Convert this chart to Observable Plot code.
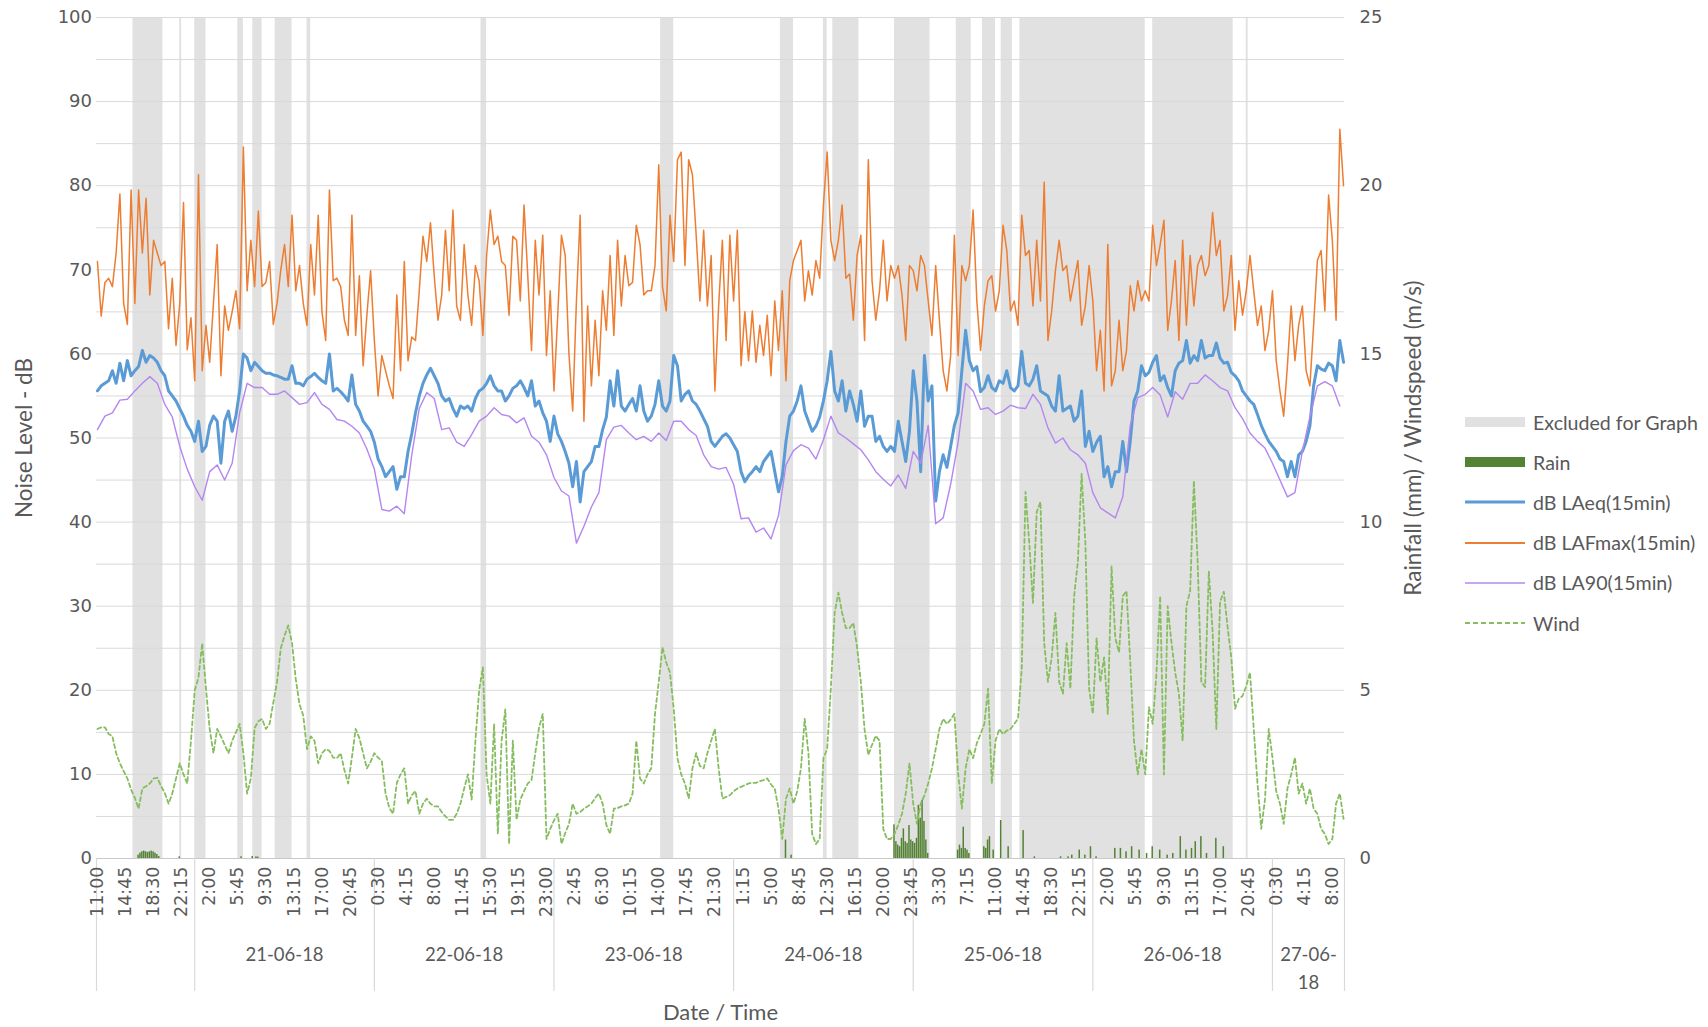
<!DOCTYPE html>
<html>
<head>
<meta charset="utf-8">
<script src="https://cdn.jsdelivr.net/npm/d3@7"></script>
<script src="https://cdn.jsdelivr.net/npm/@observablehq/plot@0.6"></script>
<style>
  body { margin: 0; background: #fff; }
  #chart { position: relative; width: 1708px; height: 1027px; }
  #legend { position: absolute; left: 1465px; top: 402px; font-family: Lato, sans-serif; font-size: 19.6px; color: #595959; }
  #legend .item { display: flex; align-items: center; height: 40.2px; gap: 8px; white-space: nowrap; }
  #legend svg { display: block; }
</style>
</head>
<body>
<div id="chart">
  <div id="legend">
    <div class="item"><svg width="60" height="14"><rect x="0" y="2" width="60" height="10" fill="#e1e1e1"/></svg><span>Excluded for Graph</span></div>
    <div class="item"><svg width="60" height="14"><rect x="0" y="2" width="60" height="10" fill="#548235"/></svg><span>Rain</span></div>
    <div class="item"><svg width="60" height="14"><line x1="0" x2="60" y1="7" y2="7" stroke="#5b9bd5" stroke-width="3"/></svg><span>dB LAeq(15min)</span></div>
    <div class="item"><svg width="60" height="14"><line x1="0" x2="60" y1="7" y2="7" stroke="#ed7d31" stroke-width="2"/></svg><span>dB LAFmax(15min)</span></div>
    <div class="item"><svg width="60" height="14"><line x1="0" x2="60" y1="7" y2="7" stroke="#b486f0" stroke-width="1.6"/></svg><span>dB LA90(15min)</span></div>
    <div class="item"><svg width="60" height="14"><line x1="0" x2="60" y1="7" y2="7" stroke="#86bd5f" stroke-width="2" stroke-dasharray="5,3"/></svg><span>Wind</span></div>
  </div>
</div>
<script>
// Monitoring period: 15-minute intervals from 20-06-18 11:00 to 27-06-18 09:30
const startTime = "2018-06-20 11:00";

// Half-hourly readings (dB), from 20-06 11:00
const lafmax = [
  71,64.5,68.5,69,68,72,79,66,63.5,79.5,66,79.5,72,78.5,67,73.5,72,70.5,71,63,69,61,66,78,60.5,64.3,56.8,81.3,58,63.4,59,66,73,57.4,65.7,62.8,65,67.5,63,84.6,67.5,73.5,68,77,68,68.5,71,63.5,66,70,73,68,76.5,67.5,70.5,
  66,63.4,73,67,76.5,65,61.6,79.5,68.7,69,68,64,62.2,76.5,62.2,69.3,58.6,64.6,69.9,61.6,55,59.8,58,56.2,54.7,67,58,71,59.2,62,61.6,67.5,74,71,75.6,69.3,64,67,74.7,67.5,77.1,65.7,64,73,67,63.4,70.5,68.7,62.2,71.7,77.1,73,74,71,70.5,64.6,74,
  73.5,66.3,77.7,69.3,60.4,73.5,67,74.1,59.8,67.5,55.6,64.6,74.1,71.7,60,53.2,66.3,76.5,52,65.7,56.2,64,57.4,67.5,62.8,71.7,62.2,73.5,65.7,71.7,68.1,68.5,75.3,73,67,67.5,67.5,70.5,82.5,68,65.1,76.5,71,83.1,84,70.5,83.1,81.3,74.1,66.3,74.7,65.7,71.7,55.6,65.7,73.5,
  61.6,74.1,66.3,74.7,58.6,65,59.2,65.1,59,63.4,59.8,64.6,57.4,66.3,60.4,67.5,56.8,68.7,71.1,72.3,73.5,66.3,69.9,67,71.1,69,77.7,84,73.5,71.1,73.5,77.7,69,69.5,64,71.7,74.1,61.6,83.1,68.7,64,67.5,73.5,66.3,70.5,69,70.5,67,61.6,70.5,69.9,67.5,71.7,70.5,66.3,62.2,
  70.5,64,58,55.6,59.8,74.1,59.8,70.5,68.7,70.5,77.1,66.3,60.4,65.7,68.7,69.3,65.1,67.5,75.3,72.3,65.1,66.3,63.4,76.5,71.7,72.3,65.7,73.5,66.3,80.4,61.6,65.1,69.9,73.5,69.9,70.5,66.3,68.7,71.1,63.4,65.7,70.5,66.3,58,62.8,55.6,73,56.2,58,64,58,60.4,68.1,65.1,68.7,66.3,67.5,
  66.3,75.3,70.5,73,75.9,62.8,66.3,71.1,61.6,73.5,63.4,71.7,65.7,70.5,71.7,69.3,70.5,76.8,71.7,73.5,65.1,66.9,71.7,62.8,68.7,64.6,67.5,71.7,67.5,63.4,65.7,60.4,62.8,67.5,59.2,55.6,52.6,58.6,65.7,59.2,63.4,65.7,58,56.2,63.4,71.1,72.3,65.1,78.9,73.5,64,86.7,80
];
const laeq = [
  55.6,56.2,56.5,56.8,58,56.5,58.9,56.8,59.2,57.4,58,58.5,60.4,59,59.8,59.5,59,58,57.4,55.6,55,54.4,53.5,52.6,51.5,50.8,49.6,52,48.4,49,51.5,52.6,52,47,52,53.2,50.8,52.6,55.6,60,59.5,58,59,58.5,58,57.7,57.7,57.5,57.4,57.2,57,57,58.6,56.5,56.5,
  56.2,57,57.3,57.7,57.2,56.8,56.5,60,55.6,55.9,55.5,55,54.4,57.5,54,53.2,52,51.4,50.8,49.5,47.5,46.6,45.4,46,46.6,43.9,45.4,45.4,48.4,50.5,53,55,56.5,57.5,58.3,57.4,56.5,55,54.4,54.7,53.5,52.6,53.8,53.5,53.8,53.2,54.7,55.6,55.9,56.5,57.4,56.2,55.6,55.6,54.4,55,55.9,
  56.2,56.8,56,55,56.8,53.8,54.4,53,52,49.6,52.6,50.5,49.6,48.4,47,44.2,47.2,42.4,46,46.6,47.2,49,49,51,52.5,56.8,53.8,58,53.8,53.2,54,54.7,53.2,56.2,53.2,52,52.6,54,56.8,53.8,53.2,54.4,59.8,58.6,54.4,55.2,55.6,54.4,54,53.2,52.3,51.4,49.6,49,49.6,50.2,
  50.5,50,49.2,48.4,46,44.8,45.5,46,46.6,46,47.2,47.8,48.4,46,43.6,45.4,49.6,52.6,53.2,54.4,56.2,53.2,52,50.8,51.4,52.5,54.4,56.8,60.3,55.6,54.4,56.8,53.2,55.6,54,52,55.6,51.4,52.6,52.6,49.6,50.2,49,48.4,49,48.4,52,49.6,47.2,50.8,58,54.4,46,59.8,54.4,56.2,
  42.5,46,48,46.5,49,51.5,53,58,62.8,59.2,58,58.5,55.5,56,57.4,56,55.6,56.8,56.5,58,56,55.6,56.2,60.3,56.5,56.2,57,58.6,55.6,55.3,55,53.8,53.2,57.4,53.2,53.5,53.8,52,52.6,55.6,49,50.8,48.4,49.5,50.2,45.4,46.6,44.2,46,46,49.6,46,49.6,54.4,55.6,58.6,57.4,
  57.8,59,59.8,56.8,57.4,56,55,58,58.9,59.2,61.6,58.9,59.8,59.2,61.6,59.5,59.8,59.8,61.3,59.5,58.9,59,57.8,57.4,56.8,55.6,55,54.4,54,52.8,51.5,50.5,49.6,49,48.4,47.5,47.2,45.4,47.2,45.4,48,48.4,49.6,51.4,56.2,58.6,58.2,58,58.9,58.6,56.8,61.6,59
];
// Half-hourly wind speed (m/s)
const wind = [
  3.85,3.9,3.9,3.7,3.63,3.13,2.83,2.6,2.38,2.05,1.8,1.48,2.08,2.15,2.23,2.38,2.4,2.15,1.95,1.63,1.93,2.38,2.83,2.5,2.23,3.5,5,5.38,6.4,5.05,3.85,3.13,3.85,3.63,3.38,3.13,3.5,3.75,4,3.13,1.93,2.38,3.88,4.08,4.15,3.85,4,4.63,5.25,6.25,6.63,6.93,6.4,5.33,4.58,
  4.25,3.25,3.63,3.5,2.83,3.13,3.25,3.2,3,2.98,3.13,2.63,2.23,3,3.85,3.58,3.13,2.68,2.88,3.13,3,2.9,1.93,1.5,1.33,2.25,2.5,2.68,1.63,1.88,2,1.33,1.63,1.78,1.63,1.55,1.55,1.38,1.25,1.15,1.15,1.33,1.63,2.08,2.5,1.75,3.5,5,5.68,2.5,1.63,4,0.73,3.5,4.43,0.43,3.5,
  1.15,1.75,2,2.23,2.33,3.13,3.88,4.3,0.58,0.88,1.13,1.33,0.43,0.75,1.03,1.63,1.33,1.38,1.48,1.55,1.63,1.8,1.93,1.63,1,0.73,1.48,1.5,1.55,1.58,1.63,1.93,3.5,2.38,2.23,2.5,2.68,4.3,5.25,6.28,5.83,5.53,4.45,2.98,2.5,2.23,1.78,2.68,3.13,2.75,2.68,3.13,3.5,3.85,2.68,1.78,
  1.83,1.88,2,2.08,2.13,2.18,2.23,2.25,2.25,2.3,2.33,2.38,2.2,2.08,1.48,0.58,1.78,2.08,1.63,2,2.68,4.15,3.13,0.73,0.43,0.58,2.98,3.25,5.08,7.3,7.9,7.3,6.85,6.85,7,6.28,5.25,3.83,3.08,3.38,3.65,3.5,0.88,0.58,0.58,0.73,1,1.33,1.93,2.83,1.63,1.03,1.63,1.88,2.23,2.68,
  3.25,3.85,4.15,4,4.13,4.3,2.53,1.48,2.68,3.25,2.98,3.43,3.7,4,5.05,2.23,3.5,3.85,3.7,3.8,3.85,4,4.15,5.65,10.9,9.4,7.6,10.3,10.6,6.4,5.25,5.98,7.3,5.25,4.9,6.4,5.05,7.8,8.83,11.43,9.4,5.05,4.3,6.55,5.25,5.98,4.3,8.68,6.55,6.13,7.8,7.95,5.83,3.5,2.5,3.25,2.5,
  4.5,4,5.5,7.8,2.5,7.5,6.43,5.53,4.9,3.5,7.5,7.95,11.23,8.83,5.25,5.1,8.53,6.75,3.85,7.63,7.93,6.88,5.98,4.45,4.75,4.83,5.13,5.53,3.85,2.23,0.88,1.75,3.85,3,2,1.63,1.03,2.08,2.5,3,1.93,2.23,1.63,2.08,1.48,1.33,0.88,0.73,0.43,0.58,1.63,1.93,1.18
];
// Hourly background level (dB), from 20-06 11:00
const la90 = [
  51,52.6,53,54.5,54.6,55.6,56.5,57.3,56.5,54,52.5,49,46.3,44.2,42.6,46,46.8,45,47,53,56.5,56,56,55.2,55.2,55.6,54.8,54,
  54.2,55.4,54,53.4,52.2,52,51.4,50.6,48.7,46.3,41.5,41.3,41.9,41,48,53.5,55.4,54.7,51,51.2,49.5,49,50.4,52,52.6,53.6,52.8,52.6,
  51.8,52.4,50.2,49.5,48,45.3,43.7,43.1,37.5,39.5,41.8,43.5,49.8,51.3,51.5,50.6,49.8,50.2,49.6,50.6,49.7,52,52,51,50.3,48,46.6,46.3,
  46.5,44.5,40.4,40.5,38.8,39.3,38,40.8,46.8,48.5,49.2,48.8,47.5,49.8,52.6,50.6,50,49.3,48.6,47.4,46,45.1,44.3,45.6,44,48.4,47,51.5,39.8,
  40.5,44.5,49.5,56.5,55.6,53.4,53.6,52.8,53.2,53.9,53.6,53.5,55.2,54,51.2,49.4,50,48.6,48,47,43.5,41.7,41.1,40.5,43,51.5,54.8,
  55.2,56,55.1,52.5,55.5,54.6,56.5,56.5,57.5,56.8,56,55.6,53.6,52.3,50.6,49.6,48.8,47,45,43,43.5,48.4,52.5,56.2,56.7,56.2,53.8
];

// Rainfall per 15-minute interval (mm)
const rainAt = [
  "2018-06-20 16:30","2018-06-20 16:45","2018-06-20 17:00","2018-06-20 17:15","2018-06-20 17:30","2018-06-20 17:45","2018-06-20 18:00","2018-06-20 18:15","2018-06-20 18:30","2018-06-20 18:45","2018-06-20 19:00","2018-06-20 19:15","2018-06-20 22:00",
  "2018-06-21 06:15","2018-06-21 07:45","2018-06-21 08:15","2018-06-21 08:30",
  "2018-06-24 07:00","2018-06-24 07:45","2018-06-24 21:30","2018-06-24 21:45","2018-06-24 22:00","2018-06-24 22:15","2018-06-24 22:30","2018-06-24 22:45","2018-06-24 23:00","2018-06-24 23:15","2018-06-24 23:30","2018-06-24 23:45",
  "2018-06-25 00:00","2018-06-25 00:15","2018-06-25 00:30","2018-06-25 00:45","2018-06-25 01:00","2018-06-25 01:15","2018-06-25 01:30","2018-06-25 01:45","2018-06-25 02:00",
  "2018-06-25 06:00","2018-06-25 06:15","2018-06-25 06:30","2018-06-25 06:45","2018-06-25 07:00","2018-06-25 07:15","2018-06-25 07:30",
  "2018-06-25 09:30","2018-06-25 09:45","2018-06-25 10:00","2018-06-25 10:15","2018-06-25 10:45","2018-06-25 11:45","2018-06-25 12:45","2018-06-25 14:45","2018-06-25 16:15",
  "2018-06-25 19:45","2018-06-25 20:45","2018-06-25 21:15","2018-06-25 22:15","2018-06-25 23:00","2018-06-25 23:45",
  "2018-06-26 00:30","2018-06-26 03:00","2018-06-26 03:45","2018-06-26 04:30","2018-06-26 05:15","2018-06-26 06:15","2018-06-26 07:15","2018-06-26 08:00","2018-06-26 09:00","2018-06-26 10:00",
  "2018-06-26 10:45","2018-06-26 11:45","2018-06-26 12:30","2018-06-26 13:15","2018-06-26 13:45","2018-06-26 14:30","2018-06-26 15:15","2018-06-26 16:30","2018-06-26 17:30"
];
const rainMm = [
  0.1,0.16,0.2,0.22,0.2,0.18,0.2,0.22,0.2,0.16,0.12,0.06,0.05,
  0.05,0.06,0.05,0.04,
  0.55,0.1,1.0,0.5,0.4,0.35,0.6,0.88,0.5,0.45,0.98,0.55,
  0.5,0.45,0.6,1.58,1.2,1.73,1.1,0.55,0.15,
  0.25,0.4,0.3,0.93,0.3,0.25,0.15,
  0.35,0.3,0.55,0.65,0.25,1.13,0.35,0.83,0.05,
  0.05,0.05,0.1,0.25,0.1,0.35,
  0.05,0.3,0.3,0.2,0.35,0.25,0.15,0.35,0.25,0.1,
  0.15,0.65,0.25,0.3,0.5,0.65,0.15,0.6,0.35
];

// Periods excluded from the assessment
const excludedFrom = [
  "2018-06-20 15:45","2018-06-20 22:00","2018-06-21 00:00","2018-06-21 05:45","2018-06-21 07:45","2018-06-21 10:45","2018-06-21 15:00",
  "2018-06-22 14:15","2018-06-23 14:15","2018-06-24 06:15","2018-06-24 12:00","2018-06-24 13:15","2018-06-24 21:30",
  "2018-06-25 05:45","2018-06-25 09:15","2018-06-25 11:45","2018-06-25 14:15","2018-06-26 08:00","2018-06-26 20:30"
];
const excludedTo = [
  "2018-06-20 19:45","2018-06-20 22:15","2018-06-21 01:30","2018-06-21 06:30","2018-06-21 09:00","2018-06-21 13:00","2018-06-21 15:30",
  "2018-06-22 15:00","2018-06-23 16:00","2018-06-24 08:00","2018-06-24 12:30","2018-06-24 16:45","2018-06-25 02:15",
  "2018-06-25 07:45","2018-06-25 11:00","2018-06-25 13:15","2018-06-26 07:00","2018-06-26 18:45","2018-06-26 20:45"
];

// Axis labels
const timeTickLabels = [
  "11:00","14:45","18:30","22:15","2:00","5:45","9:30","13:15","17:00","20:45","0:30","4:15","8:00","11:45","15:30",
  "19:15","23:00","2:45","6:30","10:15","14:00","17:45","21:30","1:15","5:00","8:45","12:30","16:15","20:00","23:45",
  "3:30","7:15","11:00","14:45","18:30","22:15","2:00","5:45","9:30","13:15","17:00","20:45","0:30","4:15","8:00"
];
const dayLabels = ["21-06-18","22-06-18","23-06-18","24-06-18","25-06-18","26-06-18","27-06-18"];
const leftTicks = [0,10,20,30,40,50,60,70,80,90,100];
const rightTicks = [0,5,10,15,20,25];

// ---- build tables ----
const MIN = 60000;
const parseT = d3.utcParse("%Y-%m-%d %H:%M");
const t0 = parseT(startTime);
const slot = 15 * MIN;
const nSlots = 667;
const domain = [new Date(+t0 - slot / 2), new Date(+t0 + (nSlots - 0.5) * slot)];

const halfHourly = lafmax.map((v, i) => ({t: new Date(+t0 + i * 30 * MIN), lafmax: v, laeq: laeq[i], wind: wind[i]}));
const hourly = la90.map((v, i) => ({t: new Date(+t0 + i * 60 * MIN), la90: v}));
const rain = rainAt.map((s, i) => ({t: parseT(s), mm: rainMm[i]}));
const excluded = excludedFrom.map((s, i) => ({from: parseT(s), to: parseT(excludedTo[i])}));
const timeTicks = timeTickLabels.map((label, k) => ({t: new Date(+t0 + k * 225 * MIN), label}));
const parseDay = d3.utcParse("%d-%m-%y");
const days = dayLabels.map(label => {
  const d0 = parseDay(label), d1 = d3.utcDay.offset(d0, 1);
  const a = Math.max(+d0, +domain[0]), b = Math.min(+d1, +domain[1]);
  return {label, start: d0, center: new Date((a + b) / 2), narrow: (b - a) < 12 * 60 * MIN};
});
const separators = [domain[0], ...days.map(d => d.start), domain[1]];

const gray = "#595959";
const chart = Plot.plot({
  width: 1708,
  height: 1027,
  marginLeft: 96,
  marginRight: 364,
  marginTop: 17,
  marginBottom: 169,
  x: {type: "utc", domain, axis: null},
  y: {domain: [0, 100], axis: null},
  style: {fontFamily: "DejaVu Sans", fontSize: "18px", color: gray, background: "white", overflow: "visible"},
  marks: [
    // excluded periods
    Plot.rect(excluded, {x1: "from", x2: "to", y1: 0, y2: 100, fill: "#e1e1e1"}),
    // gridlines
    Plot.ruleY(d3.range(5, 101, 5), {stroke: "#d9d9d9", strokeWidth: 1}),
    Plot.ruleY([0], {stroke: "#c9c9c9", strokeWidth: 1.2}),
    // date group separators below the axis
    Plot.ruleX(separators, {x: d => d, insetTop: 841, insetBottom: -133, stroke: "#d9d9d9", strokeWidth: 1.2}),
    // rainfall (right axis, mm; 1 mm = 4 units on the left axis)
    Plot.rect(rain, {x1: d => new Date(+d.t - 6 * MIN), x2: d => new Date(+d.t + 6 * MIN), y1: 0, y2: d => d.mm * 4, fill: "#548235"}),
    // noise levels
    Plot.line(halfHourly, {x: "t", y: "laeq", stroke: "#5b9bd5", strokeWidth: 3}),
    Plot.line(halfHourly, {x: "t", y: "lafmax", stroke: "#ed7d31", strokeWidth: 1.5}),
    Plot.line(hourly, {x: "t", y: "la90", stroke: "#b486f0", strokeWidth: 1.4}),
    // wind speed (right axis, m/s)
    Plot.line(halfHourly, {x: "t", y: d => d.wind * 4, stroke: "#86bd5f", strokeWidth: 1.8, strokeDasharray: "4,3"}),
    // left axis
    Plot.text(leftTicks, {y: d => d, text: d => String(d), frameAnchor: "left", dx: -4.5, textAnchor: "end", fontSize: 18}),
    // right axis
    Plot.text(rightTicks, {y: d => d * 4, text: d => String(d), frameAnchor: "right", dx: 15, textAnchor: "start", fontSize: 18}),
    // time of day labels
    Plot.text(timeTicks, {x: "t", text: "label", frameAnchor: "bottom", dy: 8, rotate: -90, textAnchor: "end", lineAnchor: "middle", fontSize: 17.5}),
    // date labels
    Plot.text(days, {x: "center", text: d => d.narrow ? d.label.replace(/-(\d+)$/, "-\n$1") : d.label,
      frameAnchor: "bottom", dy: 83, lineAnchor: "top", lineHeight: 1.5, fontFamily: "Lato", fontSize: 18.5}),
    // axis titles
    Plot.text(["Noise Level - dB"], {frameAnchor: "left", dx: -72, rotate: -90, textAnchor: "middle", lineAnchor: "middle", fontFamily: "Lato", fontSize: 22.5}),
    Plot.text(["Rainfall (mm) / Windspeed (m/s)"], {frameAnchor: "right", dx: 69, rotate: -90, textAnchor: "middle", lineAnchor: "middle", fontFamily: "Lato", fontSize: 22.5}),
    Plot.text(["Date / Time"], {frameAnchor: "bottom", dy: 154, textAnchor: "middle", lineAnchor: "middle", fontFamily: "Lato", fontSize: 22})
  ]
});
document.getElementById("chart").prepend(chart);
</script>
</body>
</html>
